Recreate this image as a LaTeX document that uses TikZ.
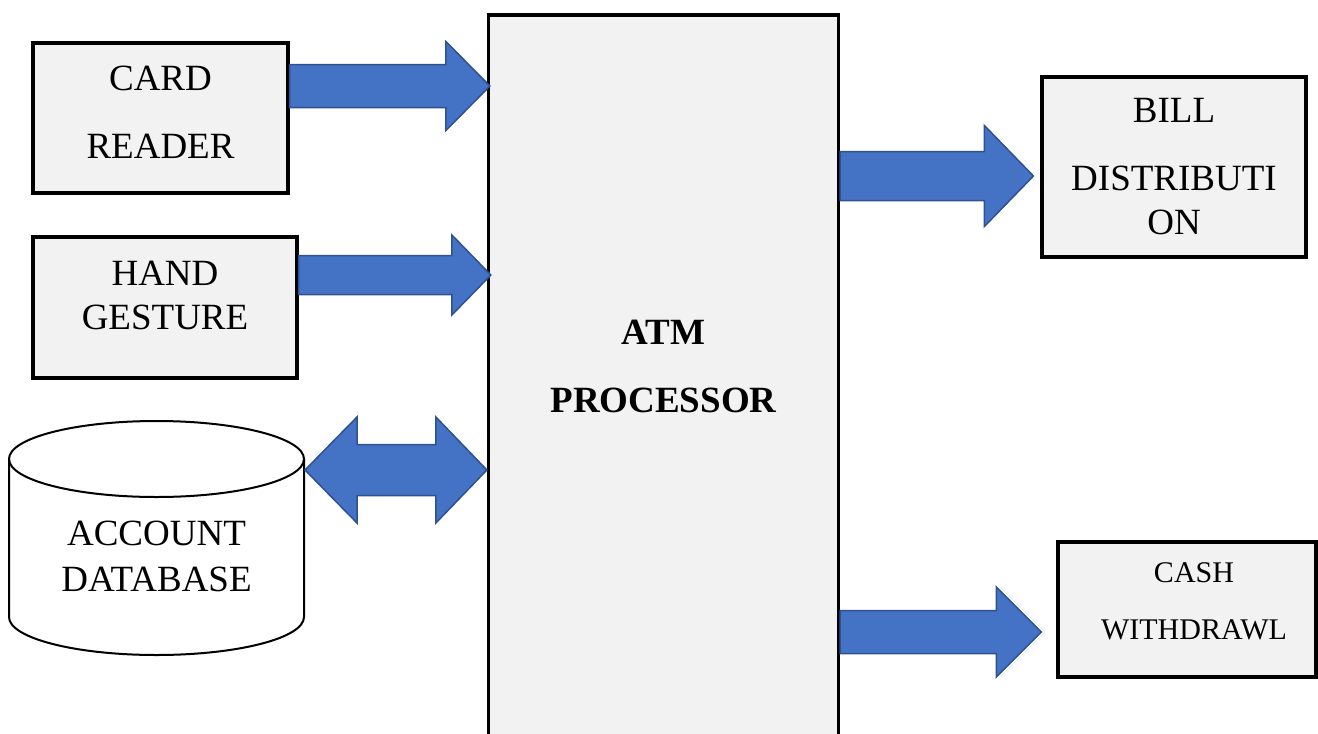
\documentclass[tikz,border=0pt]{standalone}
\usepackage{fontspec}
\setmainfont{Liberation Serif}
\usetikzlibrary{calc}
\definecolor{arrowblue}{HTML}{4472C4}
\definecolor{arrowedge}{HTML}{2F528F}
\definecolor{boxgray}{HTML}{F2F2F2}
% right block arrow: #1 start, #2 tip, #3 half shaft, #4 half head, #5 head length
\newcommand\rblockarrow[5]{%
  \draw[blockarrow] let \p1=(#1), \p2=(#2) in
    (\x1,\y1+#3pt) -- (\x2-#5pt,\y1+#3pt) -- (\x2-#5pt,\y1+#4pt) -- (\x2,\y1)
    -- (\x2-#5pt,\y1-#4pt) -- (\x2-#5pt,\y1-#3pt) -- (\x1,\y1-#3pt) -- cycle;}
% double block arrow: #1 left tip, #2 right tip, #3 half shaft, #4 half head, #5 left head length, #6 right head length
\newcommand\dblockarrow[6]{%
  \draw[blockarrow] let \p1=(#1), \p2=(#2) in
    (\x1,\y1) -- (\x1+#5pt,\y1+#4pt) -- (\x1+#5pt,\y1+#3pt) -- (\x2-#6pt,\y1+#3pt)
    -- (\x2-#6pt,\y1+#4pt) -- (\x2,\y1) -- (\x2-#6pt,\y1-#4pt) -- (\x2-#6pt,\y1-#3pt)
    -- (\x1+#5pt,\y1-#3pt) -- (\x1+#5pt,\y1-#4pt) -- cycle;}
\begin{document}
\begin{tikzpicture}[x=1pt,y=-1pt,
  box/.style={draw=black, line width=3.2pt, fill=boxgray, rectangle, inner sep=0pt,
    align=center, font=\fontsize{37}{44}\selectfont},
  blockarrow/.style={fill=arrowblue, draw=arrowedge, line width=1.5pt, line join=miter},
  cyl/.style={draw=black, line width=2pt, fill=white}]
\useasboundingbox (0,0) rectangle (1318,734);

% processor
\node[box, minimum width=350pt, minimum height=760pt,
  font=\bfseries\fontsize{37}{44}\selectfont] (proc) at (663.5,395)
  {ATM\\[24pt]PROCESSOR\rule[-58pt]{0pt}{58pt}};

% input boxes
\node[box, minimum width=255pt, minimum height=150pt] (card) at (160.5,118)
  {CARD\\[24pt]READER\rule[-12.5pt]{0pt}{12.5pt}};
\node[box, minimum width=264pt, minimum height=141pt] (hand) at (165,307.5)
  {HAND\\GESTURE\rule[-25pt]{0pt}{25pt}};

% database cylinder
\draw[cyl] (9,459) -- (9,617)
  arc[start angle=180, end angle=0, x radius=147.5, y radius=38] -- (304,459)
  arc[start angle=0, end angle=-180, x radius=147.5, y radius=38] -- cycle;
\draw[cyl, fill=none] (9,459) arc[start angle=180, end angle=0, x radius=147.5, y radius=38];
\node[align=center, inner sep=0pt, font=\fontsize{37}{44}\selectfont] (db) at (156.5,556)
  {ACCOUNT\\[2pt]DATABASE};
\coordinate (dbedge) at (305,470);

% output boxes
\node[box, minimum width=264pt, minimum height=180pt] (bill) at (1174,167)
  {BILL\\[24pt]DISTRIBUTI\\ON};
\node[box, minimum width=258pt, minimum height=135pt,
  font=\fontsize{30}{36}\selectfont] (cash) at (1187,609.5)
  {\hspace*{14pt}CASH\\[21pt]\hspace*{14pt}WITHDRAWL\rule[-16pt]{0pt}{16pt}};

% arrows
\rblockarrow{$(card.east)+(0,-32)$}{$(proc.west)+(3,0)$}{21.5}{44.5}{44}
\rblockarrow{$(hand.east)+(0,-32.5)$}{$(proc.west)+(4,0)$}{19.5}{40}{39}
\dblockarrow{dbedge}{proc.west}{25.5}{53}{52}{51}
\rblockarrow{$(proc.east)+(0,-219)$}{$(bill.west)+(-7,0)$}{24.5}{50.5}{49}
\rblockarrow{$(proc.east)+(0,237)$}{$(cash.west)+(-15,0)$}{21.5}{45}{45}
\end{tikzpicture}
\end{document}
